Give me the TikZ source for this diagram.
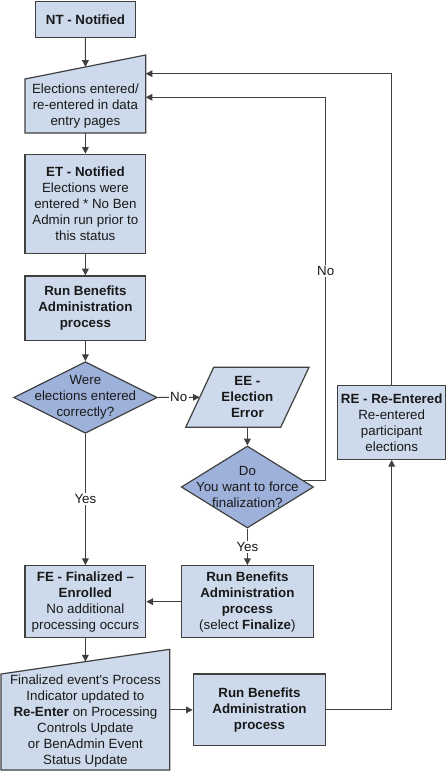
\documentclass[tikz,border=0pt]{standalone}
\usepackage{fontspec}
\setmainfont{Liberation Sans}
\usetikzlibrary{shapes.geometric,arrows.meta}
\definecolor{boxblue}{HTML}{CCDAEC}
\definecolor{diablue}{HTML}{9DB1DB}
\definecolor{linegray}{HTML}{404040}
\begin{document}
\begin{tikzpicture}[x=0.75pt,y=0.75pt]
    \tikzstyle{every node}+=[inner sep=0pt, font=\fontsize{10}{12}\selectfont, align=center, text=black!90]
    \tikzstyle{box}=[rectangle, draw=linegray, fill=boxblue, line width=0.9pt]
    \tikzstyle{dia}=[diamond, draw=linegray, fill=diablue, line width=0.9pt]
    \tikzstyle{shp}=[draw=linegray, fill=boxblue, line width=0.9pt, line join=miter]
    \tikzstyle{arr}=[draw=linegray, line width=0.75pt, -{Triangle[length=5pt,width=5pt]}]
    \tikzstyle{lbl}=[fill=white, inner sep=1pt]
    \useasboundingbox (0,0) rectangle (447,-771);
    \node [box, minimum width=74.7pt, minimum height=27pt] (nt) at (85.5,-19.3) {\textbf{NT - Notified}};
    \draw [shp] (25,-79) -- (145.7,-55) -- (145.7,-133) -- (25,-133) -- cycle;
    \node (m1) at (85.4,-106) {Elections entered/\\re-entered in data\\entry pages};
    \coordinate (m1top) at (85.4,-66.9);
    \coordinate (m1in1) at (145.7,-73.7);
    \coordinate (m1in2) at (145.7,-97.3);
    \coordinate (m1bot) at (85.4,-133);
    \node [box, minimum width=90.5pt, minimum height=74.25pt] (et) at (85.4,-203.8) {\textbf{ET - Notified}\\Elections were\\entered * No Ben\\Admin run prior to\\this status};
    \node [box, minimum width=90.5pt, minimum height=48.5pt] (run1) at (85.4,-308.3) {\textbf{Run Benefits}\\\textbf{Administration}\\\textbf{process}};
    \node [dia, minimum width=107.7pt, minimum height=53.7pt] (d1) at (85.4,-397.5) {};
    \node (d1txt) at (85.4,-397.5) {Were\\elections entered\\correctly?};
    \draw [shp] (185.7,-427.3) -- (213.7,-367.3) -- (309,-367.3) -- (280.7,-427.3) -- cycle;
    \node (ee) at (247.4,-397.3) {\textbf{EE -}\\\textbf{Election}\\\textbf{Error}};
    \coordinate (eein) at (199.7,-397.3);
    \coordinate (eebot) at (247.4,-427.3);
    \node [dia, minimum width=99.2pt, minimum height=61.5pt] (d2) at (247.4,-487) {};
    \node (d2txt) at (247.4,-487) {Do\\You want to force\\finalization?};
    \node [box, minimum width=90.5pt, minimum height=54pt] (fe) at (85.4,-601.7) {\textbf{FE - Finalized –}\\\textbf{Enrolled}\\No additional\\processing occurs};
    \node [box, minimum width=99.3pt, minimum height=54pt] (run2) at (247.4,-601.7) {\textbf{Run Benefits}\\\textbf{Administration}\\\textbf{process}\\(select \textbf{Finalize})};
    \draw [shp] (1,-674) -- (169.7,-649.3) -- (169.7,-770) -- (1,-770) -- cycle;
    \node (m2) at (85.4,-721) {Finalized event\textquotesingle s Process\\Indicator updated to\\\textbf{Re-Enter} on Processing\\Controls Update\\or BenAdmin Event\\Status Update};
    \coordinate (m2top) at (85.4,-661.6);
    \coordinate (m2out) at (169.7,-709.9);
    \node [box, minimum width=99.3pt, minimum height=53.8pt] (run3) at (259.5,-709.9) {\textbf{Run Benefits}\\\textbf{Administration}\\\textbf{process}};
    \node [box, minimum width=81pt, minimum height=55.2pt] (re) at (391.7,-422.5) {\textbf{RE - Re-Entered}\\Re-entered\\participant\\elections};
    \coordinate (c1) at (325.7,-97.3);
    \coordinate (c2) at (391.7,-73.7);
    \draw [arr] (nt.south) -- (m1top);
    \draw [arr] (m1bot) -- (et.north);
    \draw [arr] (et.south) -- (run1.north);
    \draw [arr] (run1.south) -- (d1.north);
    \draw [arr] (d1.east) -- node [lbl] (no1) {No} (eein);
    \draw [arr] (eebot) -- (d2.north);
    \draw [arr] (d2.7) -| (c1) -- (m1in2);
    \node [lbl] (no2) at (325.7,-271) {No};
    \draw [arr] (d1.south) -- (fe.north);
    \node [lbl] (yes1) at (85.4,-499) {Yes};
    \draw [arr] (d2.south) -- (run2.north);
    \node [lbl] (yes2) at (247.4,-546.7) {Yes};
    \draw [arr] (run2.west) -- (fe.east);
    \draw [arr] (fe.south) -- (m2top);
    \draw [arr] (m2out) -- (run3.west);
    \draw [arr] (run3.east) -| (re.south);
    \draw [arr] (re.north) -- (c2) -- (m1in1);
\end{tikzpicture}
\end{document}
